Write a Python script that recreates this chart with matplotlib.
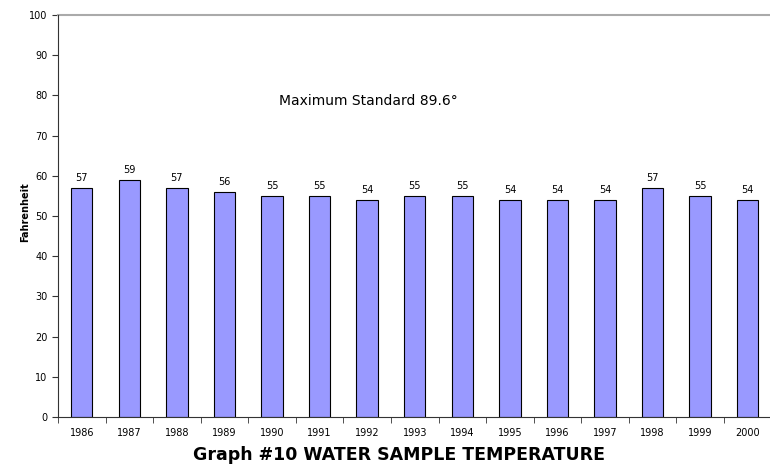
import matplotlib
matplotlib.use("Agg")
import matplotlib.pyplot as plt

years = ["1986", "1987", "1988", "1989", "1990", "1991", "1992", "1993",
         "1994", "1995", "1996", "1997", "1998", "1999", "2000"]
temps = [57, 59, 57, 56, 55, 55, 54, 55, 55, 54, 54, 54, 57, 55, 54]

fig = plt.figure(figsize=(7.7, 4.7), dpi=100)
ax = fig.add_axes([58 / 770, 53 / 470, 1 - 58 / 770 + 0.002, 402 / 470])

x = list(range(len(years)))
bars = ax.bar(x, temps, width=0.45, color="#9999FF", edgecolor="black", linewidth=0.8)
for xi, v in zip(x, temps):
    ax.text(xi, v + 1.2, str(v), ha="center", va="bottom", fontsize=7)

ax.set_xlim(-0.5, len(years) - 0.5)
ax.set_ylim(0, 100)
ax.set_yticks(range(0, 101, 10))
ax.set_xticks(x)
ax.set_xticklabels(years, fontsize=7)
ax.set_xticks([i + 0.5 for i in range(-1, len(years))], minor=True)
ax.tick_params(axis="x", which="major", length=0, pad=8)
ax.tick_params(axis="x", which="minor", length=4, direction="out", color="#333333")
ax.tick_params(axis="y", length=4, direction="out", labelsize=7, color="#333333")

ax.axhline(100, color="#aaaaaa", linewidth=1.5, clip_on=False)
for s in ["top", "right"]:
    ax.spines[s].set_visible(False)
for s in ["left", "bottom"]:
    ax.spines[s].set_color("#333333")

ax.set_ylabel("Fahrenheit", fontsize=7, fontweight="bold")
ax.yaxis.set_label_coords(-0.039, 0.51)
ax.text(4.15, 78.6, "Maximum Standard 89.6°", ha="left", va="center", fontsize=10)

fig.text(0.518, 0.032, "Graph #10 WATER SAMPLE TEMPERATURE", ha="center", va="center",
         fontsize=12.5, fontweight="bold")

fig.savefig("out.png", dpi=100)
